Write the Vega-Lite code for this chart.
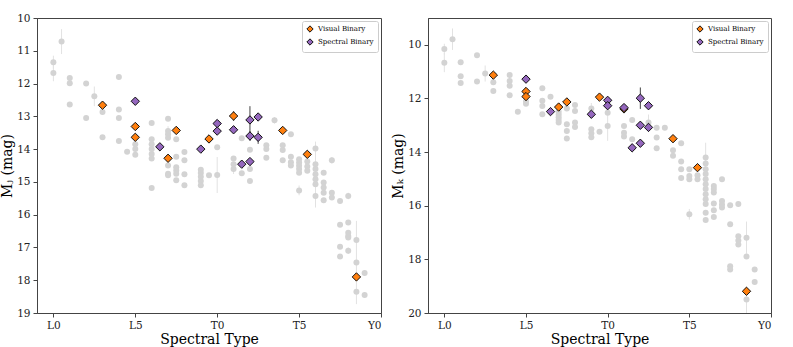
{
"$schema":"https://vega.github.io/schema/vega-lite/v6.json",
"padding":{"left":0,"top":12,"right":5,"bottom":2},
"spacing":9,
"datasets":{
"J":[
{"spt":0,"mag":11.35,"err":0.2,"type":"Field"},{"spt":0,"mag":11.68,"err":0.25,"type":"Field"},{"spt":0.5,"mag":10.72,"err":0.38,"type":"Field"},
{"spt":1,"mag":11.83,"type":"Field"},{"spt":1,"mag":11.99,"type":"Field"},{"spt":1,"mag":12.64,"type":"Field"},
{"spt":2,"mag":12.0,"type":"Field"},{"spt":2,"mag":13.05,"type":"Field"},{"spt":2.5,"mag":12.39,"err":0.3,"type":"Field"},
{"spt":3,"mag":12.87,"type":"Field"},{"spt":3,"mag":13.64,"type":"Field"},
{"spt":4,"mag":11.8,"type":"Field"},{"spt":4,"mag":12.79,"type":"Field"},{"spt":4,"mag":13.05,"type":"Field"},{"spt":4,"mag":13.75,"type":"Field"},
{"spt":4.5,"mag":14.08,"type":"Field"},
{"spt":5,"mag":13.85,"type":"Field"},{"spt":5,"mag":14.0,"type":"Field"},{"spt":5,"mag":14.17,"type":"Field"},
{"spt":6,"mag":13.2,"type":"Field"},{"spt":6,"mag":13.7,"type":"Field"},{"spt":6,"mag":13.85,"type":"Field"},{"spt":6,"mag":14.0,"type":"Field"},{"spt":6,"mag":14.15,"type":"Field"},{"spt":6,"mag":14.29,"type":"Field"},{"spt":6,"mag":15.19,"type":"Field"},
{"spt":7,"mag":13.07,"type":"Field"},{"spt":7,"mag":13.45,"err":0.15,"type":"Field"},{"spt":7,"mag":13.55,"type":"Field"},{"spt":7,"mag":13.65,"type":"Field"},{"spt":7,"mag":14.5,"type":"Field"},{"spt":7,"mag":14.75,"type":"Field"},{"spt":7,"mag":14.8,"type":"Field"},
{"spt":7.5,"mag":13.7,"type":"Field"},{"spt":7.5,"mag":14.23,"type":"Field"},{"spt":7.5,"mag":14.55,"type":"Field"},{"spt":7.5,"mag":14.65,"type":"Field"},{"spt":7.5,"mag":14.75,"type":"Field"},{"spt":7.5,"mag":14.95,"type":"Field"},
{"spt":8,"mag":14.09,"type":"Field"},{"spt":8,"mag":14.34,"type":"Field"},{"spt":8,"mag":14.77,"type":"Field"},{"spt":8,"mag":15.1,"type":"Field"},
{"spt":9,"mag":14.63,"type":"Field"},{"spt":9,"mag":14.73,"type":"Field"},{"spt":9,"mag":14.84,"type":"Field"},{"spt":9,"mag":14.97,"type":"Field"},{"spt":9,"mag":15.1,"type":"Field"},
{"spt":9.5,"mag":14.8,"type":"Field"},
{"spt":10,"mag":13.94,"type":"Field"},{"spt":10,"mag":14.79,"err":0.55,"type":"Field"},
{"spt":11,"mag":14.29,"type":"Field"},{"spt":11,"mag":14.46,"type":"Field"},{"spt":11,"mag":14.61,"err":0.15,"type":"Field"},
{"spt":11.5,"mag":13.67,"type":"Field"},{"spt":11.5,"mag":14.74,"type":"Field"},
{"spt":12,"mag":14.02,"type":"Field"},{"spt":12,"mag":14.61,"type":"Field"},{"spt":12,"mag":14.97,"type":"Field"},
{"spt":13,"mag":13.88,"type":"Field"},{"spt":13,"mag":14.0,"type":"Field"},{"spt":13,"mag":14.26,"type":"Field"},
{"spt":13.5,"mag":13.12,"err":0.1,"type":"Field"},
{"spt":14,"mag":13.88,"type":"Field"},{"spt":14,"mag":14.03,"type":"Field"},{"spt":14,"mag":14.34,"type":"Field"},
{"spt":14.5,"mag":13.55,"type":"Field"},{"spt":14.5,"mag":14.23,"type":"Field"},{"spt":14.5,"mag":14.4,"type":"Field"},{"spt":14.5,"mag":14.5,"type":"Field"},
{"spt":15,"mag":14.31,"type":"Field"},{"spt":15,"mag":14.41,"type":"Field"},{"spt":15,"mag":14.51,"type":"Field"},{"spt":15,"mag":14.61,"type":"Field"},{"spt":15,"mag":14.72,"type":"Field"},{"spt":15,"mag":15.26,"err":0.15,"type":"Field"},
{"spt":15.5,"mag":14.38,"type":"Field"},{"spt":15.5,"mag":14.53,"type":"Field"},{"spt":15.5,"mag":14.66,"type":"Field"},
{"spt":16,"mag":13.98,"type":"Field"},{"spt":16,"mag":14.46,"type":"Field"},{"spt":16,"mag":14.61,"type":"Field"},{"spt":16,"mag":14.77,"err":1.0,"type":"Field"},{"spt":16,"mag":14.92,"type":"Field"},{"spt":16,"mag":15.07,"type":"Field"},{"spt":16,"mag":15.43,"err":0.35,"type":"Field"},
{"spt":16.5,"mag":14.72,"type":"Field"},{"spt":16.5,"mag":15.02,"type":"Field"},{"spt":16.5,"mag":15.17,"type":"Field"},{"spt":16.5,"mag":15.33,"type":"Field"},{"spt":16.5,"mag":15.56,"type":"Field"},
{"spt":17,"mag":14.34,"err":0.1,"type":"Field"},{"spt":17,"mag":15.33,"type":"Field"},{"spt":17,"mag":15.48,"type":"Field"},
{"spt":17.5,"mag":15.58,"type":"Field"},{"spt":17.5,"mag":16.31,"type":"Field"},{"spt":17.5,"mag":16.98,"type":"Field"},{"spt":17.5,"mag":17.28,"type":"Field"},
{"spt":18,"mag":15.43,"err":0.1,"type":"Field"},{"spt":18,"mag":16.24,"type":"Field"},{"spt":18,"mag":16.55,"type":"Field"},{"spt":18,"mag":16.65,"type":"Field"},{"spt":18,"mag":16.7,"type":"Field"},{"spt":18,"mag":17.1,"err":0.1,"type":"Field"},
{"spt":18.5,"mag":16.77,"type":"Field"},{"spt":18.5,"mag":17.46,"err":1.27,"type":"Field"},{"spt":18.5,"mag":18.35,"type":"Field"},
{"spt":19,"mag":17.78,"type":"Field"},{"spt":19,"mag":18.45,"type":"Field"},
{"spt":3,"mag":12.66,"type":"Visual Binary"},{"spt":5,"mag":13.31,"type":"Visual Binary"},{"spt":5,"mag":13.64,"type":"Visual Binary"},{"spt":7,"mag":14.28,"type":"Visual Binary"},{"spt":7.5,"mag":13.43,"type":"Visual Binary"},{"spt":9.5,"mag":13.69,"type":"Visual Binary"},{"spt":11,"mag":12.99,"err":0.15,"type":"Visual Binary"},{"spt":14,"mag":13.43,"type":"Visual Binary"},{"spt":15.5,"mag":14.16,"type":"Visual Binary"},{"spt":18.5,"mag":17.9,"type":"Visual Binary"},
{"spt":5,"mag":12.54,"type":"Spectral Binary"},{"spt":6.5,"mag":13.93,"type":"Spectral Binary"},{"spt":9,"mag":14.0,"type":"Spectral Binary"},{"spt":10,"mag":13.22,"type":"Spectral Binary"},{"spt":10,"mag":13.45,"type":"Spectral Binary"},{"spt":11,"mag":13.41,"type":"Spectral Binary"},{"spt":11.5,"mag":14.46,"type":"Spectral Binary"},{"spt":12,"mag":13.11,"err":0.42,"type":"Spectral Binary"},{"spt":12,"mag":13.6,"err":0.15,"type":"Spectral Binary"},{"spt":12,"mag":14.38,"type":"Spectral Binary"},{"spt":12.5,"mag":13.02,"type":"Spectral Binary"},{"spt":12.5,"mag":13.64,"err":0.2,"type":"Spectral Binary"}
],
"K":[
{"spt":0,"mag":10.16,"err":0.2,"type":"Field"},{"spt":0,"mag":10.67,"err":0.35,"type":"Field"},{"spt":0.5,"mag":9.79,"err":0.4,"type":"Field"},
{"spt":1,"mag":10.65,"type":"Field"},{"spt":1,"mag":11.17,"type":"Field"},{"spt":1,"mag":11.42,"type":"Field"},
{"spt":2,"mag":10.39,"type":"Field"},{"spt":2,"mag":11.37,"type":"Field"},{"spt":2.5,"mag":11.07,"err":0.3,"type":"Field"},
{"spt":3,"mag":11.4,"type":"Field"},{"spt":3,"mag":11.72,"type":"Field"},
{"spt":4,"mag":11.13,"type":"Field"},{"spt":4,"mag":11.35,"type":"Field"},{"spt":4,"mag":11.53,"type":"Field"},{"spt":4,"mag":11.88,"type":"Field"},
{"spt":4.5,"mag":12.5,"type":"Field"},
{"spt":5,"mag":12.1,"type":"Field"},{"spt":5,"mag":12.2,"type":"Field"},
{"spt":6,"mag":11.62,"type":"Field"},{"spt":6,"mag":12.09,"type":"Field"},{"spt":6,"mag":12.28,"type":"Field"},{"spt":6,"mag":12.59,"type":"Field"},
{"spt":6.5,"mag":11.94,"type":"Field"},
{"spt":7,"mag":12.5,"type":"Field"},{"spt":7,"mag":12.6,"type":"Field"},{"spt":7,"mag":12.7,"type":"Field"},{"spt":7,"mag":12.8,"type":"Field"},{"spt":7,"mag":12.9,"type":"Field"},
{"spt":7.5,"mag":12.37,"type":"Field"},{"spt":7.5,"mag":12.96,"type":"Field"},{"spt":7.5,"mag":13.21,"type":"Field"},{"spt":7.5,"mag":13.49,"type":"Field"},
{"spt":8,"mag":12.24,"type":"Field"},{"spt":8,"mag":12.47,"type":"Field"},{"spt":8,"mag":12.9,"type":"Field"},{"spt":8,"mag":13.06,"type":"Field"},
{"spt":9,"mag":12.37,"err":0.2,"type":"Field"},{"spt":9,"mag":13.15,"type":"Field"},{"spt":9,"mag":13.3,"type":"Field"},{"spt":9,"mag":13.45,"type":"Field"},
{"spt":9.5,"mag":13.24,"type":"Field"},
{"spt":10,"mag":12.53,"type":"Field"},{"spt":10,"mag":13.03,"err":0.55,"type":"Field"},
{"spt":11,"mag":13.03,"type":"Field"},{"spt":11,"mag":13.28,"type":"Field"},{"spt":11,"mag":13.42,"type":"Field"},
{"spt":11.5,"mag":12.8,"type":"Field"},{"spt":11.5,"mag":13.52,"type":"Field"},
{"spt":12.5,"mag":12.9,"err":0.3,"type":"Field"},
{"spt":13,"mag":13.09,"type":"Field"},{"spt":13,"mag":13.46,"type":"Field"},{"spt":13,"mag":13.86,"type":"Field"},
{"spt":13.5,"mag":13.09,"type":"Field"},
{"spt":14,"mag":13.93,"type":"Field"},{"spt":14,"mag":14.14,"type":"Field"},
{"spt":14.5,"mag":13.67,"type":"Field"},{"spt":14.5,"mag":14.35,"type":"Field"},{"spt":14.5,"mag":14.64,"type":"Field"},{"spt":14.5,"mag":14.97,"type":"Field"},
{"spt":15,"mag":14.64,"type":"Field"},{"spt":15,"mag":14.89,"type":"Field"},{"spt":15,"mag":15.01,"type":"Field"},{"spt":15,"mag":16.32,"err":0.2,"type":"Field"},
{"spt":15.5,"mag":14.86,"type":"Field"},{"spt":15.5,"mag":15.01,"type":"Field"},
{"spt":16,"mag":14.2,"err":0.55,"type":"Field"},{"spt":16,"mag":14.43,"type":"Field"},{"spt":16,"mag":14.64,"type":"Field"},{"spt":16,"mag":14.82,"type":"Field"},{"spt":16,"mag":15.01,"type":"Field"},{"spt":16,"mag":15.2,"type":"Field"},{"spt":16,"mag":15.38,"type":"Field"},{"spt":16,"mag":15.57,"type":"Field"},{"spt":16,"mag":15.76,"type":"Field"},{"spt":16,"mag":15.94,"type":"Field"},{"spt":16,"mag":16.26,"type":"Field"},{"spt":16,"mag":16.53,"type":"Field"},
{"spt":16.5,"mag":15.26,"type":"Field"},{"spt":16.5,"mag":15.38,"type":"Field"},{"spt":16.5,"mag":15.51,"type":"Field"},{"spt":16.5,"mag":15.92,"type":"Field"},{"spt":16.5,"mag":16.17,"type":"Field"},{"spt":16.5,"mag":16.42,"type":"Field"},
{"spt":17,"mag":15.01,"type":"Field"},{"spt":17,"mag":15.82,"type":"Field"},{"spt":17,"mag":15.95,"type":"Field"},{"spt":17,"mag":16.07,"type":"Field"},
{"spt":17.5,"mag":15.98,"type":"Field"},{"spt":17.5,"mag":16.69,"type":"Field"},{"spt":17.5,"mag":18.26,"type":"Field"},{"spt":17.5,"mag":18.38,"type":"Field"},
{"spt":18,"mag":15.94,"err":0.1,"type":"Field"},{"spt":18,"mag":17.14,"type":"Field"},{"spt":18,"mag":17.3,"type":"Field"},{"spt":18,"mag":17.45,"type":"Field"},
{"spt":18.5,"mag":17.19,"err":0.6,"type":"Field"},{"spt":18.5,"mag":17.89,"type":"Field"},{"spt":18.5,"mag":19.5,"err":0.5,"type":"Field"},
{"spt":19,"mag":18.38,"type":"Field"},{"spt":19,"mag":18.84,"type":"Field"},
{"spt":3,"mag":11.13,"type":"Visual Binary"},{"spt":5,"mag":11.74,"type":"Visual Binary"},{"spt":5,"mag":11.93,"type":"Visual Binary"},{"spt":7,"mag":12.32,"type":"Visual Binary"},{"spt":7.5,"mag":12.13,"type":"Visual Binary"},{"spt":9.5,"mag":11.95,"type":"Visual Binary"},{"spt":11,"mag":12.39,"type":"Visual Binary"},{"spt":14,"mag":13.5,"type":"Visual Binary"},{"spt":15.5,"mag":14.58,"type":"Visual Binary"},{"spt":18.5,"mag":19.19,"type":"Visual Binary"},
{"spt":5,"mag":11.28,"type":"Spectral Binary"},{"spt":6.5,"mag":12.49,"type":"Spectral Binary"},{"spt":9,"mag":12.59,"type":"Spectral Binary"},{"spt":10,"mag":12.07,"type":"Spectral Binary"},{"spt":10,"mag":12.27,"type":"Spectral Binary"},{"spt":11,"mag":12.34,"type":"Spectral Binary"},{"spt":11.5,"mag":13.84,"type":"Spectral Binary"},{"spt":12,"mag":11.99,"err":0.4,"type":"Spectral Binary"},{"spt":12,"mag":13.0,"err":0.12,"type":"Spectral Binary"},{"spt":12,"mag":13.67,"type":"Spectral Binary"},{"spt":12.5,"mag":12.27,"type":"Spectral Binary"},{"spt":12.5,"mag":13.08,"err":0.15,"type":"Spectral Binary"}
]
},
"hconcat":[
{
"width":344,"height":295,
"data":{"name":"J"},
"encoding":{
"x":{"field":"spt","type":"quantitative","title":"Spectral Type","scale":{"domain":[-1,20],"nice":false,"zero":false},"axis":{"values":[0,5,10,15,20],"labelExpr":"datum.value==0?'L0':datum.value==5?'L5':datum.value==10?'T0':datum.value==15?'T5':'Y0'"}},
"y":{"field":"mag","type":"quantitative","title":"Mⱼ (mag)","scale":{"domain":[10,19],"reverse":true,"nice":false,"zero":false},"axis":{"values":[10,11,12,13,14,15,16,17,18,19]}}
},
"layer":[
{"transform":[{"filter":"datum.type=='Field' && datum.err>0"}],"mark":{"type":"errorbar","color":"#e2e2e2","thickness":1},"encoding":{"yError":{"field":"err"}}},
{"transform":[{"filter":"datum.type=='Field'"}],"mark":{"type":"circle","color":"#d3d3d3","size":36,"opacity":1}},
{"transform":[{"filter":"datum.type!='Field' && datum.err>0"}],"mark":{"type":"errorbar","color":"#444","thickness":1},"encoding":{"yError":{"field":"err"}}},
{"transform":[{"filter":"datum.type!='Field'"}],"mark":{"type":"point","shape":"diamond","filled":true,"stroke":"#111","strokeWidth":1,"size":70,"opacity":1},
"encoding":{"color":{"field":"type","type":"nominal","scale":{"domain":["Visual Binary","Spectral Binary"],"range":["#ff7f0e","#9467bd"]},"legend":{"title":null}}}}
]
},
{
"width":343,"height":295,
"data":{"name":"K"},
"encoding":{
"x":{"field":"spt","type":"quantitative","title":"Spectral Type","scale":{"domain":[-1,20],"nice":false,"zero":false},"axis":{"values":[0,5,10,15,20],"labelExpr":"datum.value==0?'L0':datum.value==5?'L5':datum.value==10?'T0':datum.value==15?'T5':'Y0'"}},
"y":{"field":"mag","type":"quantitative","title":"Mₖ (mag)","scale":{"domain":[9,20],"reverse":true,"nice":false,"zero":false},"axis":{"values":[10,12,14,16,18,20]}}
},
"layer":[
{"transform":[{"filter":"datum.type=='Field' && datum.err>0"}],"mark":{"type":"errorbar","color":"#e2e2e2","thickness":1},"encoding":{"yError":{"field":"err"}}},
{"transform":[{"filter":"datum.type=='Field'"}],"mark":{"type":"circle","color":"#d3d3d3","size":36,"opacity":1}},
{"transform":[{"filter":"datum.type!='Field' && datum.err>0"}],"mark":{"type":"errorbar","color":"#444","thickness":1},"encoding":{"yError":{"field":"err"}}},
{"transform":[{"filter":"datum.type!='Field'"}],"mark":{"type":"point","shape":"diamond","filled":true,"stroke":"#111","strokeWidth":1,"size":70,"opacity":1},
"encoding":{"color":{"field":"type","type":"nominal","scale":{"domain":["Visual Binary","Spectral Binary"],"range":["#ff7f0e","#9467bd"]},"legend":{"title":null}}}}
]
}
],
"resolve":{"scale":{"color":"independent"},"legend":{"color":"independent"}},
"config":{
"font":"DejaVu Serif",
"view":{"stroke":"#444","strokeWidth":1},
"axis":{"labelFont":"DejaVu Serif","labelFontSize":10.5,"labelColor":"#222","titleFont":"DejaVu Serif","titleFontSize":14,"titleFontWeight":"normal","titleColor":"#000","domainColor":"#444","tickColor":"#444","grid":false,"tickSize":4,"labelPadding":3,"titlePadding":2},
"legend":{"orient":"top-right","offset":3,"strokeColor":"#ccc","fillColor":"white","padding":4,"cornerRadius":2,"labelFont":"DejaVu Serif","labelFontSize":7,"symbolType":"diamond","symbolStrokeColor":"#111","symbolStrokeWidth":1,"symbolSize":40,"rowPadding":1,"symbolOpacity":1}
}
}
